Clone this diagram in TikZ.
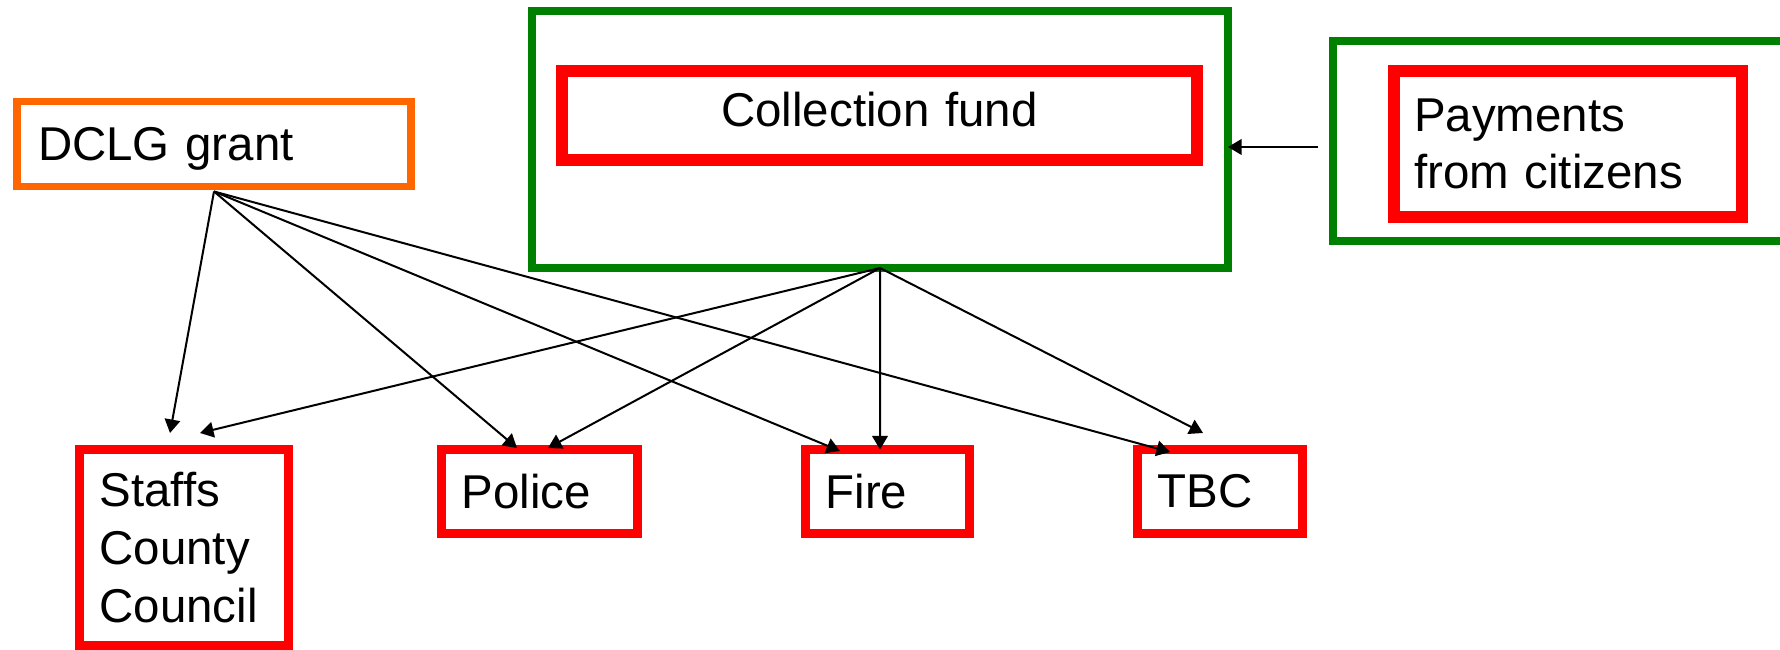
\documentclass[tikz,border=0pt]{standalone}
\usepackage{fontspec}
\setmainfont{Liberation Sans}
\usepackage{tikz}
\usetikzlibrary{arrows.meta}

\definecolor{grantorange}{HTML}{FF6600}
\definecolor{fundgreen}{HTML}{008000}

\begin{document}
\begin{tikzpicture}[x=0.1mm, y=-0.1mm,
  box/.style = {outer sep=0, inner ysep=0, inner xsep=2mm, align=left,
    font=\fontsize{13.5}{16.4}\selectfont},
  payee/.style = {box, draw=red, line width=0.9mm, minimum height=8.4mm},
  flow/.style = {line width=0.2mm, -{Triangle[length=1.35mm, width=1.55mm]}}]

\useasboundingbox (0,0) rectangle (1780,650);
\clip (0,0) rectangle (1780,650);

% sources
\node[box, draw=grantorange, line width=0.73mm, text width=35.2mm, text depth=0pt,
  minimum height=8.5mm, inner xsep=2.1mm] (dclg) at (214,144) {DCLG grant};

\node[box, draw=fundgreen, line width=0.8mm, minimum width=69.6mm,
  minimum height=25.7mm] (collection) at (880,139.5) {};
\node[box, draw=red, line width=1.2mm, text width=59.5mm, align=center,
  text depth=1.2mm, minimum height=8.9mm] (fund) at (879.5,115.5) {Collection fund};

\node[box, draw=fundgreen, line width=0.8mm, minimum width=45.7mm,
  minimum height=20mm] (paygreen) at (1561.5,141) {};
\node[box, draw=red, line width=1.2mm, text width=30.8mm,
  minimum height=14.6mm] (payments) at (1568,144) {Payments\\from citizens};

% receivers
\node[payee, text width=16.9mm, minimum height=19.6mm] (staffs) at (184,547.5)
  {Staffs\\County\\Council};
\node[payee, text width=15.6mm] (police) at (539.5,491.5) {Police};
\node[payee, text width=12.4mm] (fire) at (887.5,491.5) {Fire};
\node[payee, text width=12.5mm] (tbc) at (1220,491.5) {TBC};

% payments into the fund
\coordinate (paytail) at ([xshift=-1.5mm, yshift=-0.6mm]paygreen.west);
\draw[flow] (paytail) -- (paytail -| collection.east);

% grant
\draw[flow] ([yshift=-0.5mm]dclg.south) -- ([xshift=-1.4mm, yshift=1.65mm]staffs.north);
\draw[flow] ([yshift=-0.5mm]dclg.south) -- ([xshift=-2.25mm, yshift=0.15mm]police.north);
\draw[flow] ([yshift=-0.5mm]dclg.south) -- ([xshift=-4.75mm, yshift=-0.15mm]fire.north);
\draw[flow] ([yshift=-0.5mm]dclg.south) -- ([xshift=-5mm, yshift=-0.25mm]tbc.north);

% fund shares
\draw[flow] (collection.south) -- ([xshift=1.6mm, yshift=1.65mm]staffs.north);
\draw[flow] (collection.south) -- ([xshift=0.85mm, yshift=0.15mm]police.north);
\draw[flow] (collection.south) -- ([xshift=-0.75mm, yshift=0mm]fire.north);
\draw[flow] (collection.south) -- ([xshift=-1.7mm, yshift=1.65mm]tbc.north);

\end{tikzpicture}
\end{document}
